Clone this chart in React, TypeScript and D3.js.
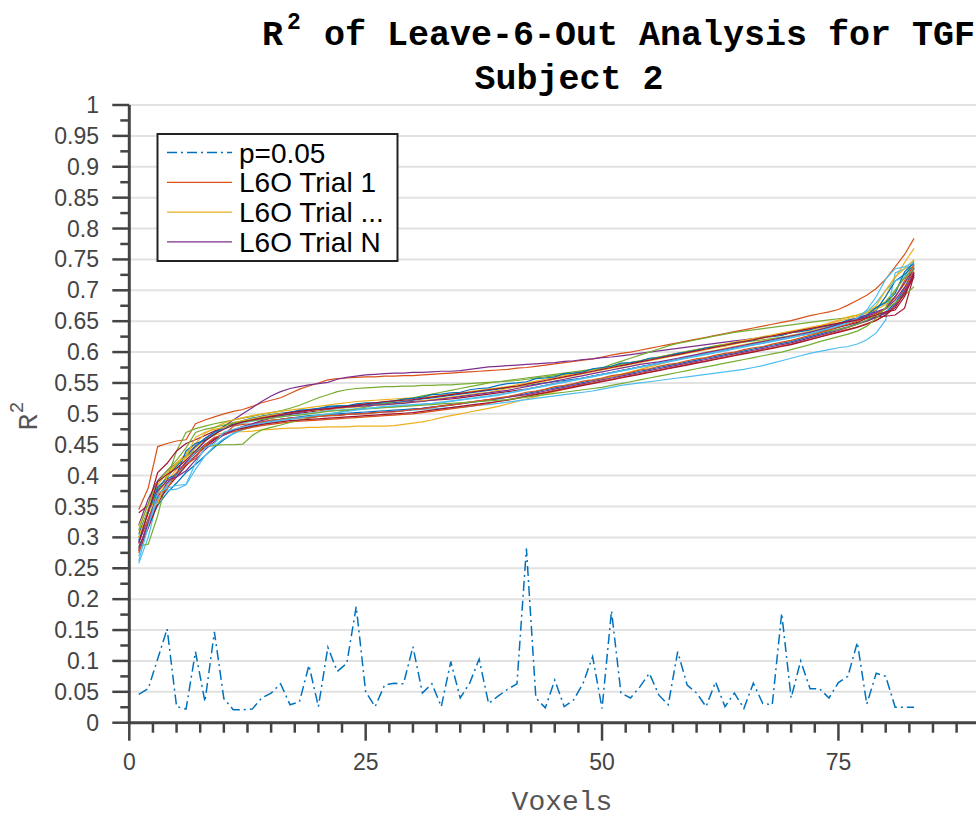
import React from 'react';
import * as d3 from 'd3';

// p=0.05 threshold per voxel
const pThreshold = [
  0.046, 0.055, 0.103, 0.152, 0.026, 0.022, 0.115, 0.034, 0.147, 0.039,
  0.021, 0.021, 0.022, 0.040, 0.048, 0.063, 0.029, 0.034, 0.093, 0.026,
  0.122, 0.083, 0.096, 0.188, 0.050, 0.026, 0.061, 0.064, 0.063, 0.123,
  0.048, 0.063, 0.026, 0.099, 0.040, 0.064, 0.103, 0.031, 0.043, 0.054,
  0.063, 0.282, 0.040, 0.024, 0.069, 0.026, 0.037, 0.064, 0.107, 0.023,
  0.181, 0.048, 0.040, 0.058, 0.080, 0.045, 0.029, 0.115, 0.061, 0.048,
  0.026, 0.066, 0.026, 0.048, 0.023, 0.064, 0.031, 0.029, 0.177, 0.040,
  0.100, 0.055, 0.055, 0.040, 0.065, 0.075, 0.130, 0.030, 0.080, 0.075,
  0.025, 0.025, 0.025,
];

// leave-6-out trials, sorted R^2 per voxel
const trial01 = [
  0.285, 0.318, 0.352, 0.372, 0.388, 0.405, 0.418, 0.432, 0.446, 0.458,
  0.468, 0.476, 0.481, 0.485, 0.488, 0.491, 0.493, 0.495, 0.497, 0.498,
  0.499, 0.500, 0.501, 0.502, 0.503, 0.504, 0.505, 0.506, 0.507, 0.508,
  0.509, 0.511, 0.512, 0.514, 0.516, 0.518, 0.520, 0.522, 0.524, 0.527,
  0.530, 0.533, 0.536, 0.539, 0.542, 0.545, 0.548, 0.551, 0.554, 0.557,
  0.560, 0.563, 0.566, 0.569, 0.572, 0.575, 0.578, 0.581, 0.584, 0.587,
  0.590, 0.593, 0.596, 0.599, 0.602, 0.605, 0.608, 0.611, 0.614, 0.617,
  0.621, 0.625, 0.629, 0.633, 0.637, 0.641, 0.646, 0.651, 0.657, 0.665,
  0.679, 0.703, 0.738,
];
const trial02 = [
  0.345, 0.380, 0.447, 0.452, 0.456, 0.458, 0.484, 0.490, 0.495, 0.500,
  0.504, 0.507, 0.512, 0.518, 0.522, 0.526, 0.533, 0.540, 0.545, 0.550,
  0.555, 0.557, 0.558, 0.559, 0.560, 0.560, 0.561, 0.561, 0.562, 0.562,
  0.563, 0.564, 0.565, 0.566, 0.567, 0.568, 0.569, 0.570, 0.571, 0.572,
  0.574, 0.575, 0.577, 0.579, 0.581, 0.583, 0.585, 0.587, 0.589, 0.592,
  0.595, 0.598, 0.600, 0.603, 0.606, 0.609, 0.612, 0.615, 0.618, 0.621,
  0.624, 0.627, 0.630, 0.633, 0.636, 0.639, 0.642, 0.645, 0.648, 0.651,
  0.655, 0.659, 0.662, 0.665, 0.669, 0.676, 0.684, 0.692, 0.703, 0.718,
  0.738, 0.758, 0.784,
];
const trial03 = [
  0.310, 0.340, 0.372, 0.392, 0.410, 0.428, 0.445, 0.458, 0.466, 0.469,
  0.471, 0.471, 0.472, 0.474, 0.475, 0.476, 0.477, 0.477, 0.478, 0.478,
  0.479, 0.479, 0.479, 0.480, 0.480, 0.480, 0.480, 0.481, 0.483, 0.485,
  0.487, 0.490, 0.494, 0.497, 0.500, 0.503, 0.506, 0.509, 0.512, 0.516,
  0.520, 0.524, 0.528, 0.532, 0.536, 0.540, 0.544, 0.548, 0.552, 0.556,
  0.560, 0.564, 0.568, 0.572, 0.576, 0.580, 0.584, 0.588, 0.592, 0.596,
  0.600, 0.603, 0.606, 0.609, 0.612, 0.615, 0.618, 0.621, 0.624, 0.627,
  0.630, 0.634, 0.638, 0.642, 0.646, 0.650, 0.654, 0.659, 0.668, 0.690,
  0.720, 0.745, 0.768,
];
const trial04 = [
  0.320, 0.362, 0.392, 0.408, 0.420, 0.432, 0.448, 0.460, 0.470, 0.480,
  0.490, 0.500, 0.510, 0.520, 0.529, 0.536, 0.541, 0.544, 0.547, 0.549,
  0.551, 0.556, 0.559, 0.561, 0.563, 0.564, 0.565, 0.566, 0.566, 0.567,
  0.567, 0.568, 0.569, 0.569, 0.570, 0.572, 0.574, 0.576, 0.577, 0.578,
  0.579, 0.580, 0.581, 0.582, 0.583, 0.585, 0.586, 0.588, 0.589, 0.591,
  0.592, 0.594, 0.596, 0.598, 0.600, 0.602, 0.604, 0.606, 0.608, 0.610,
  0.612, 0.614, 0.616, 0.618, 0.620, 0.622, 0.624, 0.626, 0.628, 0.631,
  0.634, 0.637, 0.640, 0.643, 0.646, 0.650, 0.654, 0.658, 0.663, 0.670,
  0.684, 0.705, 0.730,
];
const trial05 = [
  0.286, 0.289, 0.335, 0.395, 0.440, 0.470, 0.476, 0.480, 0.484, 0.487,
  0.490, 0.493, 0.496, 0.499, 0.502, 0.505, 0.509, 0.514, 0.520, 0.526,
  0.531, 0.536, 0.539, 0.541, 0.542, 0.543, 0.544, 0.544, 0.545, 0.545,
  0.546, 0.546, 0.547, 0.547, 0.548, 0.549, 0.550, 0.551, 0.552, 0.553,
  0.554, 0.556, 0.558, 0.560, 0.562, 0.564, 0.566, 0.568, 0.571, 0.574,
  0.580, 0.585, 0.590, 0.595, 0.600, 0.605, 0.610, 0.614, 0.617, 0.620,
  0.623, 0.626, 0.629, 0.632, 0.634, 0.636, 0.638, 0.640, 0.642, 0.644,
  0.646, 0.648, 0.650, 0.652, 0.654, 0.656, 0.660, 0.665, 0.672, 0.682,
  0.700, 0.722, 0.748,
];
const trial06 = [
  0.258, 0.300, 0.362, 0.376, 0.378, 0.385, 0.410, 0.432, 0.448, 0.460,
  0.468, 0.474, 0.479, 0.483, 0.486, 0.489, 0.491, 0.493, 0.495, 0.496,
  0.497, 0.498, 0.499, 0.500, 0.501, 0.502, 0.503, 0.504, 0.505, 0.506,
  0.507, 0.508, 0.509, 0.510, 0.511, 0.512, 0.514, 0.515, 0.517, 0.519,
  0.521, 0.523, 0.525, 0.527, 0.529, 0.531, 0.533, 0.535, 0.537, 0.540,
  0.543, 0.546, 0.548, 0.550, 0.552, 0.554, 0.556, 0.558, 0.560, 0.562,
  0.564, 0.566, 0.568, 0.570, 0.572, 0.575, 0.578, 0.582, 0.586, 0.590,
  0.594, 0.598, 0.601, 0.604, 0.607, 0.609, 0.613, 0.620, 0.631, 0.652,
  0.728, 0.735, 0.742,
];
const trial07 = [
  0.340, 0.352, 0.405, 0.420, 0.440, 0.452, 0.458, 0.465, 0.472, 0.478,
  0.483, 0.487, 0.490, 0.493, 0.495, 0.497, 0.499, 0.501, 0.503, 0.505,
  0.507, 0.509, 0.511, 0.513, 0.515, 0.516, 0.517, 0.518, 0.519, 0.520,
  0.521, 0.522, 0.523, 0.524, 0.526, 0.528, 0.530, 0.532, 0.534, 0.536,
  0.538, 0.540, 0.543, 0.546, 0.549, 0.552, 0.555, 0.558, 0.561, 0.564,
  0.567, 0.570, 0.573, 0.576, 0.579, 0.582, 0.585, 0.588, 0.591, 0.594,
  0.597, 0.600, 0.603, 0.606, 0.609, 0.612, 0.615, 0.618, 0.621, 0.624,
  0.627, 0.630, 0.633, 0.636, 0.640, 0.644, 0.648, 0.655, 0.657, 0.658,
  0.660, 0.671, 0.725,
];
const trial08 = [
  0.305, 0.345, 0.378, 0.398, 0.415, 0.432, 0.447, 0.460, 0.470, 0.478,
  0.484, 0.489, 0.493, 0.496, 0.499, 0.501, 0.503, 0.505, 0.507, 0.509,
  0.511, 0.512, 0.513, 0.514, 0.515, 0.516, 0.517, 0.518, 0.520, 0.522,
  0.524, 0.526, 0.528, 0.530, 0.532, 0.534, 0.536, 0.538, 0.540, 0.542,
  0.544, 0.546, 0.548, 0.550, 0.552, 0.554, 0.556, 0.558, 0.561, 0.564,
  0.567, 0.570, 0.573, 0.576, 0.579, 0.582, 0.585, 0.588, 0.591, 0.594,
  0.597, 0.600, 0.603, 0.606, 0.609, 0.612, 0.615, 0.618, 0.621, 0.624,
  0.628, 0.632, 0.636, 0.640, 0.644, 0.648, 0.652, 0.658, 0.668, 0.690,
  0.715, 0.726, 0.740,
];
const trial09 = [
  0.280, 0.325, 0.360, 0.385, 0.402, 0.420, 0.436, 0.449, 0.459, 0.466,
  0.471, 0.475, 0.478, 0.481, 0.483, 0.485, 0.487, 0.488, 0.489, 0.490,
  0.491, 0.492, 0.493, 0.494, 0.495, 0.496, 0.497, 0.498, 0.499, 0.500,
  0.502, 0.504, 0.506, 0.508, 0.510, 0.512, 0.514, 0.517, 0.520, 0.523,
  0.526, 0.529, 0.532, 0.535, 0.538, 0.541, 0.544, 0.547, 0.550, 0.553,
  0.556, 0.559, 0.562, 0.565, 0.568, 0.571, 0.574, 0.577, 0.580, 0.583,
  0.586, 0.589, 0.592, 0.595, 0.598, 0.601, 0.604, 0.607, 0.610, 0.613,
  0.617, 0.621, 0.625, 0.629, 0.633, 0.637, 0.641, 0.646, 0.652, 0.660,
  0.675, 0.700, 0.735,
];
const trial10 = [
  0.318, 0.352, 0.385, 0.405, 0.420, 0.436, 0.452, 0.468, 0.478, 0.485,
  0.490, 0.494, 0.497, 0.500, 0.502, 0.504, 0.506, 0.508, 0.510, 0.512,
  0.514, 0.516, 0.518, 0.520, 0.521, 0.522, 0.523, 0.524, 0.525, 0.526,
  0.527, 0.528, 0.530, 0.532, 0.534, 0.536, 0.538, 0.540, 0.542, 0.544,
  0.547, 0.550, 0.553, 0.556, 0.559, 0.562, 0.565, 0.568, 0.571, 0.574,
  0.577, 0.580, 0.583, 0.586, 0.589, 0.592, 0.595, 0.598, 0.601, 0.604,
  0.607, 0.610, 0.613, 0.616, 0.619, 0.622, 0.625, 0.628, 0.631, 0.634,
  0.637, 0.640, 0.643, 0.646, 0.650, 0.654, 0.658, 0.663, 0.669, 0.677,
  0.690, 0.710, 0.740,
];
const trial11 = [
  0.292, 0.330, 0.365, 0.388, 0.405, 0.422, 0.437, 0.450, 0.460, 0.468,
  0.474, 0.479, 0.483, 0.486, 0.489, 0.491, 0.493, 0.494, 0.495, 0.496,
  0.497, 0.498, 0.499, 0.500, 0.501, 0.502, 0.503, 0.504, 0.505, 0.507,
  0.509, 0.511, 0.513, 0.515, 0.517, 0.519, 0.521, 0.523, 0.525, 0.527,
  0.529, 0.531, 0.534, 0.537, 0.540, 0.543, 0.546, 0.549, 0.552, 0.555,
  0.558, 0.561, 0.564, 0.567, 0.570, 0.573, 0.576, 0.579, 0.582, 0.585,
  0.588, 0.591, 0.594, 0.597, 0.600, 0.603, 0.606, 0.609, 0.612, 0.615,
  0.619, 0.623, 0.627, 0.631, 0.635, 0.640, 0.645, 0.650, 0.656, 0.663,
  0.676, 0.698, 0.728,
];
const trial12 = [
  0.300, 0.340, 0.375, 0.400, 0.418, 0.432, 0.440, 0.446, 0.449, 0.450,
  0.450, 0.451, 0.465, 0.474, 0.478, 0.482, 0.486, 0.490, 0.493, 0.496,
  0.499, 0.502, 0.505, 0.508, 0.511, 0.514, 0.517, 0.520, 0.523, 0.526,
  0.529, 0.532, 0.535, 0.538, 0.541, 0.544, 0.547, 0.550, 0.552, 0.554,
  0.556, 0.558, 0.560, 0.562, 0.564, 0.566, 0.568, 0.570, 0.572, 0.574,
  0.577, 0.580, 0.583, 0.586, 0.589, 0.592, 0.595, 0.598, 0.601, 0.604,
  0.607, 0.610, 0.612, 0.614, 0.616, 0.618, 0.620, 0.622, 0.624, 0.626,
  0.628, 0.630, 0.632, 0.634, 0.637, 0.640, 0.645, 0.652, 0.660, 0.670,
  0.680, 0.692, 0.706,
];
const trial13 = [
  0.270, 0.320, 0.362, 0.385, 0.400, 0.418, 0.438, 0.455, 0.468, 0.476,
  0.481, 0.485, 0.488, 0.491, 0.493, 0.495, 0.497, 0.499, 0.501, 0.503,
  0.505, 0.506, 0.507, 0.508, 0.509, 0.510, 0.511, 0.512, 0.513, 0.514,
  0.515, 0.516, 0.518, 0.520, 0.522, 0.524, 0.526, 0.528, 0.530, 0.533,
  0.536, 0.539, 0.542, 0.545, 0.548, 0.551, 0.554, 0.557, 0.560, 0.563,
  0.566, 0.569, 0.572, 0.575, 0.578, 0.581, 0.584, 0.587, 0.590, 0.593,
  0.596, 0.599, 0.602, 0.605, 0.608, 0.611, 0.614, 0.617, 0.620, 0.623,
  0.627, 0.631, 0.635, 0.639, 0.643, 0.648, 0.655, 0.665, 0.680, 0.700,
  0.715, 0.722, 0.735,
];
const trial14 = [
  0.278, 0.315, 0.355, 0.380, 0.398, 0.416, 0.432, 0.446, 0.458, 0.467,
  0.473, 0.477, 0.480, 0.483, 0.485, 0.487, 0.489, 0.490, 0.491, 0.492,
  0.493, 0.494, 0.495, 0.496, 0.497, 0.498, 0.499, 0.500, 0.501, 0.502,
  0.504, 0.506, 0.508, 0.510, 0.512, 0.514, 0.516, 0.518, 0.520, 0.522,
  0.525, 0.528, 0.531, 0.534, 0.537, 0.540, 0.543, 0.546, 0.549, 0.552,
  0.555, 0.558, 0.561, 0.564, 0.567, 0.570, 0.573, 0.576, 0.579, 0.582,
  0.585, 0.588, 0.591, 0.594, 0.597, 0.600, 0.603, 0.606, 0.609, 0.612,
  0.616, 0.620, 0.624, 0.628, 0.632, 0.636, 0.640, 0.645, 0.651, 0.660,
  0.672, 0.695, 0.722,
];
const trial15 = [
  0.295, 0.340, 0.382, 0.395, 0.402, 0.440, 0.452, 0.457, 0.466, 0.480,
  0.486, 0.488, 0.490, 0.496, 0.498, 0.499, 0.502, 0.506, 0.507, 0.508,
  0.512, 0.513, 0.513, 0.516, 0.518, 0.518, 0.519, 0.521, 0.524, 0.525,
  0.527, 0.531, 0.532, 0.534, 0.535, 0.539, 0.541, 0.542, 0.546, 0.549,
  0.550, 0.552, 0.557, 0.558, 0.560, 0.565, 0.566, 0.568, 0.573, 0.575,
  0.577, 0.582, 0.583, 0.585, 0.590, 0.591, 0.594, 0.598, 0.600, 0.603,
  0.607, 0.608, 0.610, 0.615, 0.617, 0.619, 0.624, 0.625, 0.627, 0.632,
  0.633, 0.636, 0.641, 0.643, 0.646, 0.652, 0.655, 0.660, 0.672, 0.680,
  0.695, 0.730, 0.745,
];
const trial16 = [
  0.275, 0.330, 0.370, 0.378, 0.405, 0.418, 0.428, 0.450, 0.462, 0.466,
  0.480, 0.483, 0.484, 0.487, 0.490, 0.491, 0.493, 0.494, 0.494, 0.496,
  0.497, 0.497, 0.499, 0.500, 0.500, 0.502, 0.503, 0.503, 0.505, 0.507,
  0.508, 0.510, 0.513, 0.514, 0.516, 0.519, 0.521, 0.523, 0.526, 0.528,
  0.531, 0.535, 0.537, 0.540, 0.544, 0.546, 0.549, 0.553, 0.555, 0.558,
  0.562, 0.564, 0.567, 0.571, 0.573, 0.577, 0.580, 0.582, 0.586, 0.589,
  0.591, 0.595, 0.598, 0.600, 0.604, 0.607, 0.609, 0.613, 0.616, 0.619,
  0.623, 0.627, 0.631, 0.636, 0.641, 0.645, 0.650, 0.656, 0.662, 0.670,
  0.688, 0.716, 0.742,
];
const trial17 = [
  0.300, 0.345, 0.355, 0.398, 0.420, 0.430, 0.462, 0.470, 0.475, 0.478,
  0.486, 0.489, 0.492, 0.495, 0.498, 0.500, 0.501, 0.503, 0.505, 0.506,
  0.508, 0.509, 0.510, 0.511, 0.513, 0.514, 0.515, 0.516, 0.518, 0.519,
  0.521, 0.523, 0.525, 0.527, 0.529, 0.531, 0.533, 0.535, 0.538, 0.541,
  0.544, 0.547, 0.550, 0.553, 0.556, 0.559, 0.562, 0.565, 0.568, 0.571,
  0.574, 0.577, 0.580, 0.583, 0.586, 0.589, 0.592, 0.595, 0.598, 0.601,
  0.604, 0.607, 0.610, 0.613, 0.617, 0.620, 0.623, 0.626, 0.629, 0.632,
  0.635, 0.638, 0.642, 0.647, 0.652, 0.657, 0.660, 0.664, 0.675, 0.700,
  0.722, 0.735, 0.750,
];
const trial18 = [
  0.282, 0.322, 0.375, 0.392, 0.398, 0.408, 0.425, 0.442, 0.455, 0.466,
  0.473, 0.480, 0.484, 0.489, 0.493, 0.497, 0.500, 0.502, 0.505, 0.507,
  0.509, 0.510, 0.511, 0.512, 0.513, 0.514, 0.515, 0.516, 0.517, 0.519,
  0.520, 0.522, 0.524, 0.526, 0.528, 0.530, 0.532, 0.534, 0.536, 0.538,
  0.541, 0.544, 0.547, 0.550, 0.553, 0.556, 0.559, 0.562, 0.565, 0.568,
  0.571, 0.574, 0.577, 0.580, 0.582, 0.584, 0.587, 0.590, 0.593, 0.596,
  0.599, 0.602, 0.605, 0.608, 0.611, 0.614, 0.617, 0.620, 0.623, 0.626,
  0.629, 0.632, 0.636, 0.640, 0.645, 0.650, 0.655, 0.660, 0.665, 0.671,
  0.690, 0.712, 0.736,
];
const trial19 = [
  0.312, 0.355, 0.390, 0.408, 0.425, 0.445, 0.470, 0.475, 0.478, 0.482,
  0.485, 0.487, 0.489, 0.491, 0.493, 0.495, 0.497, 0.498, 0.500, 0.502,
  0.504, 0.505, 0.506, 0.507, 0.508, 0.509, 0.510, 0.511, 0.512, 0.513,
  0.514, 0.515, 0.516, 0.517, 0.518, 0.519, 0.520, 0.521, 0.522, 0.523,
  0.525, 0.527, 0.529, 0.531, 0.533, 0.535, 0.537, 0.539, 0.541, 0.543,
  0.546, 0.549, 0.552, 0.555, 0.558, 0.561, 0.564, 0.567, 0.570, 0.573,
  0.576, 0.579, 0.582, 0.585, 0.588, 0.591, 0.594, 0.597, 0.600, 0.604,
  0.608, 0.612, 0.617, 0.621, 0.625, 0.629, 0.634, 0.642, 0.655, 0.672,
  0.700, 0.720, 0.734,
];
const trial20 = [
  0.262, 0.318, 0.372, 0.380, 0.384, 0.386, 0.420, 0.445, 0.452, 0.470,
  0.475, 0.479, 0.482, 0.485, 0.488, 0.490, 0.492, 0.494, 0.496, 0.498,
  0.500, 0.502, 0.504, 0.506, 0.508, 0.510, 0.512, 0.513, 0.514, 0.515,
  0.516, 0.517, 0.519, 0.521, 0.523, 0.525, 0.527, 0.529, 0.531, 0.534,
  0.537, 0.540, 0.543, 0.546, 0.549, 0.552, 0.555, 0.558, 0.561, 0.564,
  0.567, 0.570, 0.573, 0.576, 0.579, 0.582, 0.585, 0.588, 0.591, 0.594,
  0.597, 0.600, 0.603, 0.606, 0.609, 0.612, 0.615, 0.618, 0.621, 0.624,
  0.627, 0.630, 0.634, 0.638, 0.642, 0.647, 0.655, 0.668, 0.690, 0.718,
  0.735, 0.738, 0.745,
];
const trial21 = [
  0.290, 0.342, 0.390, 0.402, 0.412, 0.425, 0.440, 0.456, 0.467, 0.475,
  0.482, 0.487, 0.490, 0.493, 0.496, 0.499, 0.502, 0.504, 0.506, 0.507,
  0.508, 0.510, 0.512, 0.514, 0.516, 0.518, 0.520, 0.521, 0.522, 0.523,
  0.525, 0.527, 0.529, 0.531, 0.533, 0.535, 0.537, 0.539, 0.541, 0.543,
  0.545, 0.548, 0.551, 0.554, 0.557, 0.560, 0.563, 0.566, 0.569, 0.572,
  0.575, 0.578, 0.581, 0.584, 0.587, 0.590, 0.593, 0.596, 0.599, 0.602,
  0.605, 0.608, 0.611, 0.614, 0.617, 0.620, 0.623, 0.626, 0.629, 0.632,
  0.635, 0.638, 0.641, 0.644, 0.647, 0.649, 0.652, 0.656, 0.660, 0.665,
  0.668, 0.690, 0.728,
];

const trials = [
  trial01, trial02, trial03, trial04, trial05, trial06, trial07,
  trial08, trial09, trial10, trial11, trial12, trial13, trial14,
  trial15, trial16, trial17, trial18, trial19, trial20, trial21,
];

const colorOrder = ['#0072BD', '#D95319', '#EDB120', '#7E2F8E', '#77AC30', '#4DBEEE', '#A2142F'];

const xMajorTicks = [0, 25, 50, 75];
const yTickLabels = ['0', '0.05', '0.1', '0.15', '0.2', '0.25', '0.3', '0.35', '0.4', '0.45', '0.5',
  '0.55', '0.6', '0.65', '0.7', '0.75', '0.8', '0.85', '0.9', '0.95', '1'];

const legendLabels = ['p=0.05', 'L6O Trial 1', 'L6O Trial ...', 'L6O Trial N'];
const legendColors = ['#0072BD', '#D95319', '#EDB120', '#7E2F8E'];

const W = 976;
const H = 817;
const axisColor = '#444';
const mono = '"Liberation Mono", "Courier New", monospace';
const sans = '"Liberation Sans", Arial, Helvetica, sans-serif';

export default function App() {
  const x = d3.scaleLinear().domain([0, 100]).range([129.3, 129.3 + 945.5]);
  const y = d3.scaleLinear().domain([0, 1]).range([722.7, 105]);

  const line = d3.line<number>()
    .x((_, i) => x(i + 1))
    .y(d => y(d));

  const yMajor = yTickLabels.map(Number);
  const yMinor = d3.range(0.025, 1, 0.05);
  const xMinor = d3.range(2.5, 100, 2.5).filter(v => v % 25 !== 0);

  const x0 = x(0);
  const y0 = y(0);

  return (
    <svg width={W} height={H} style={{position: 'absolute', left: 0, top: 0, background: '#fff'}}>
      {/* grid */}
      {yMajor.filter(v => v > 0).map(v => (
        <line key={'g' + v} x1={x0} x2={W} y1={y(v)} y2={y(v)} stroke="#e2e2e2" strokeWidth={2}/>
      ))}

      {/* threshold */}
      <path d={line(pThreshold) || ''} fill="none" stroke="#0072BD" strokeWidth={1.5}
            strokeDasharray="10,4,2,4"/>

      {/* trials */}
      {trials.map((t, k) => (
        <path key={'t' + k} d={line(t) || ''} fill="none"
              stroke={colorOrder[k % colorOrder.length]} strokeWidth={1.2}/>
      ))}

      {/* y axis */}
      <line x1={x0} x2={x0} y1={y(1)} y2={y0 + 1.5} stroke={axisColor} strokeWidth={3}/>
      {yMajor.map((v, i) => (
        <g key={'yt' + i}>
          <line x1={x0 - 17} x2={x0} y1={y(v)} y2={y(v)} stroke={axisColor} strokeWidth={2.5}/>
          <text x={99} y={y(v)} dy="0.35em" textAnchor="end" fontFamily={sans} fontSize={23}
                fill={axisColor}>{yTickLabels[i]}</text>
        </g>
      ))}
      {yMinor.map(v => (
        <line key={'ym' + v} x1={x0 - 9} x2={x0} y1={y(v)} y2={y(v)} stroke={axisColor} strokeWidth={2.5}/>
      ))}

      {/* x axis */}
      <line x1={x0 - 1.5} x2={W} y1={y0} y2={y0} stroke={axisColor} strokeWidth={3}/>
      {xMajorTicks.map(v => (
        <g key={'xt' + v}>
          <line x1={x(v)} x2={x(v)} y1={y0} y2={y0 + 18} stroke={axisColor} strokeWidth={2.5}/>
          <text x={x(v)} y={770} textAnchor="middle" fontFamily={sans} fontSize={23}
                fill={axisColor}>{v}</text>
        </g>
      ))}
      {xMinor.map(v => (
        <line key={'xm' + v} x1={x(v)} x2={x(v)} y1={y0} y2={y0 + 10} stroke={axisColor} strokeWidth={2.5}/>
      ))}

      {/* axis labels */}
      <text x={562} y={810} textAnchor="middle" fontFamily={mono} fontSize={28} fill="#555">Voxels</text>
      <g transform="translate(37,416) rotate(-90)">
        <text textAnchor="middle" fontFamily={mono} fontSize={28} fill="#555">
          R<tspan fontSize={20} dy={-14}>2</tspan>
        </text>
      </g>

      {/* title */}
      <text y={45} fontFamily={mono} fontSize={35} fontWeight="bold" fill="#000">
        <tspan x={262}>R</tspan>
        <tspan x={287} dy={-16} fontSize={23}>2</tspan>
        <tspan x={324} dy={16}>of Leave-6-Out Analysis for TGF</tspan>
      </text>
      <text x={569} y={89} textAnchor="middle" fontFamily={mono} fontSize={35} fontWeight="bold"
            fill="#000">Subject 2</text>

      {/* legend */}
      <rect x={157.5} y={134} width={240} height={127} fill="#fff" stroke="#222" strokeWidth={2}/>
      {legendLabels.map((lab, i) => {
        const ly = 152.5 + i * 29.8;
        return (
          <g key={'l' + i}>
            <line x1={167} x2={232} y1={ly} y2={ly} stroke={legendColors[i]} strokeWidth={i === 0 ? 1.5 : 1.3}
                  strokeDasharray={i === 0 ? '10,4,2,4' : undefined}/>
            <text x={239} y={ly} dy="0.36em" fontFamily={sans} fontSize={28} fill="#000">{lab}</text>
          </g>
        );
      })}
    </svg>
  );
}
